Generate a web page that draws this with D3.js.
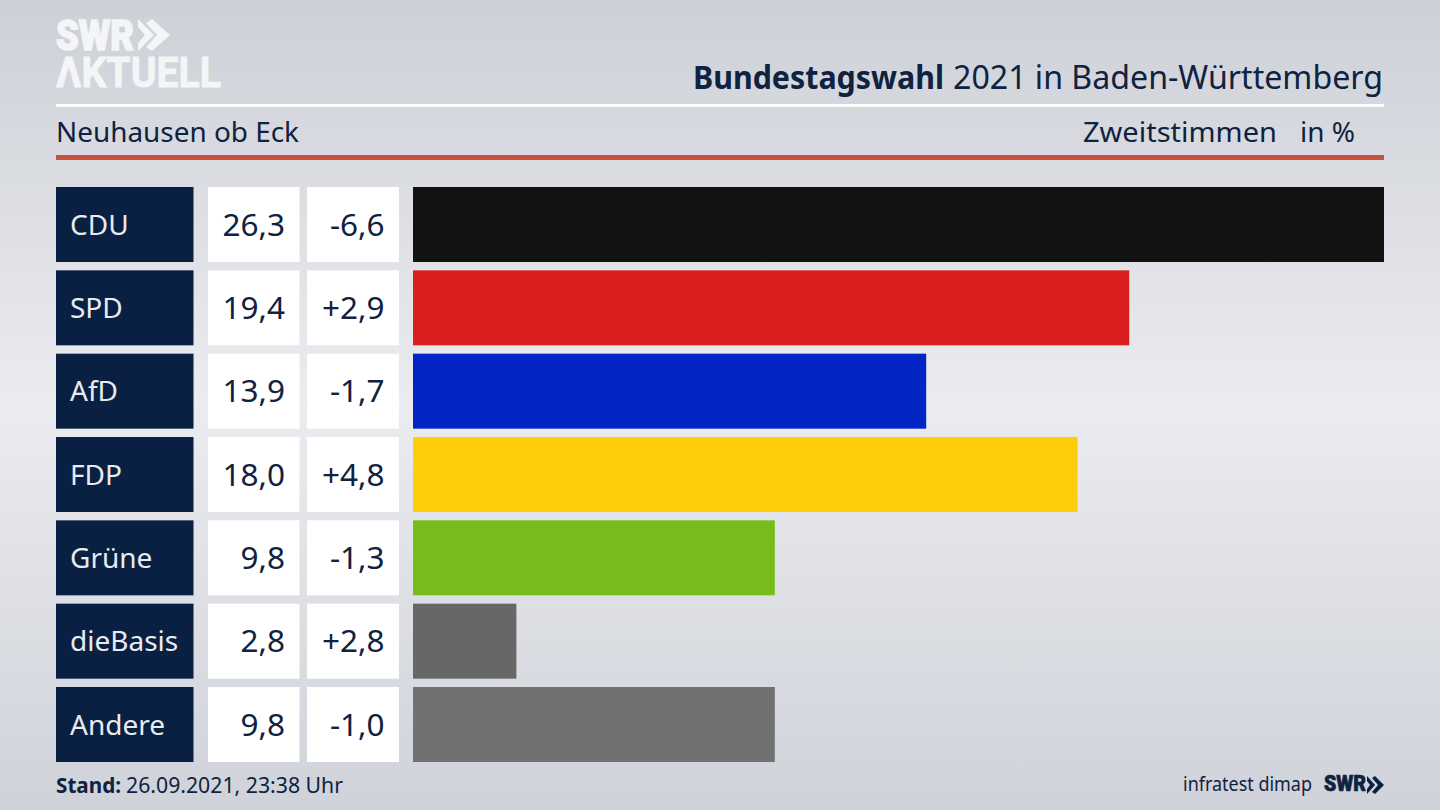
<!DOCTYPE html>
<html>
<head>
<meta charset="utf-8">
<script src="https://cdnjs.cloudflare.com/ajax/libs/d3/7.8.5/d3.min.js"></script>
<style>
html, body { margin: 0; padding: 0; overflow: hidden; background: #d8dae0; }
text { font-family: "Noto Sans", sans-serif; fill: #0f2240; }
</style>
</head>
<body>
<script>
/*--- data ---*/
let parteien = ["CDU", "SPD", "AfD", "FDP", "Grüne", "dieBasis", "Andere"];
let anteil = [26.3, 19.4, 13.9, 18.0, 9.8, 2.8, 9.8];
let differenz = [-6.6, 2.9, -1.7, 4.8, -1.3, 2.8, -1.0];
let farben = ["#121212", "#da1f1f", "#0324c4", "#ffcd0a", "#78bc1b", "#676767", "#717173"];

let width = 1440;
let height = 810;
let navy = "#0a2042";

let komma = d3.format(".1f");
function wert(v) { return komma(v).replace(".", ","); }
// d3.format gives a long minus, the chart has a plain hyphen
function diff(v) { return (v > 0 ? "+" : "") + komma(v).replace(".", ",").replace("\u2212", "-"); }

/*--- scales ---*/
let X = d3.scaleLinear().domain([0, d3.max(anteil)]).range([413, 1384]);
let Y = d3.scaleBand().domain(parteien).range([187, 762]).paddingInner(0.1);

let svg = d3.select("body").append("svg")
    .attr("width", width)
    .attr("height", height)
    .style("display", "block");

/*--- background ---*/
let grad = svg.append("defs").append("linearGradient")
    .attr("id", "bg").attr("x1", 0).attr("y1", 0).attr("x2", 0).attr("y2", 1);
grad.append("stop").attr("offset", "0%").attr("stop-color", "#cdd0d7");
grad.append("stop").attr("offset", "50%").attr("stop-color", "#ebecf0");
grad.append("stop").attr("offset", "100%").attr("stop-color", "#cfd2d9");
svg.append("rect").attr("width", width).attr("height", height).attr("fill", "url(#bg)");

/*--- logo ---*/
let logo = svg.append("g").attr("class", "logo");
logo.append("text").attr("x", 56).attr("y", 50)
    .attr("textLength", 78).attr("lengthAdjust", "spacingAndGlyphs")
    .style("font-family", "Roboto").style("font-size", "43px").style("font-weight", 900)
    .style("fill", "#f4f5f7").style("stroke", "#f4f5f7").style("stroke-width", 1.5)
    .text("SWR");
logo.append("path")
    .attr("fill", "#f4f5f7")
    .attr("d", "M138,19 L154,35 L138,51 L138,43 L145,35 L138,27 Z M152,19 L170,35 L152,51 L146,47 L157,35 L146,23 Z");
logo.append("text").attr("x", 56).attr("y", 87)
    .attr("textLength", 165).attr("lengthAdjust", "spacingAndGlyphs")
    .style("font-family", "Roboto").style("font-size", "42px").style("font-weight", 700)
    .style("fill", "#f4f5f7").style("stroke", "#f4f5f7").style("stroke-width", 0.8)
    .text("ΛKTUELL");

/*--- header ---*/
svg.append("text").attr("x", 693).attr("y", 89)
    .attr("textLength", 251).attr("lengthAdjust", "spacingAndGlyphs")
    .style("font-size", "32px").style("font-weight", 700)
    .text("Bundestagswahl");
svg.append("text").attr("x", 953).attr("y", 89)
    .attr("textLength", 430).attr("lengthAdjust", "spacingAndGlyphs")
    .style("font-size", "32px")
    .text("2021 in Baden-Württemberg");

svg.append("rect").attr("x", 56).attr("y", 104).attr("width", 1328).attr("height", 3).attr("fill", "#ffffff");

svg.append("text").attr("x", 56).attr("y", 142)
    .style("font-size", "28px").attr("textLength", 243).attr("lengthAdjust", "spacingAndGlyphs")
    .text("Neuhausen ob Eck");
svg.append("text").attr("x", 1083).attr("y", 142)
    .style("font-size", "28px").attr("textLength", 194).attr("lengthAdjust", "spacingAndGlyphs")
    .text("Zweitstimmen");
svg.append("text").attr("x", 1300).attr("y", 142)
    .style("font-size", "28px").attr("textLength", 55).attr("lengthAdjust", "spacingAndGlyphs")
    .text("in %");

svg.append("rect").attr("x", 56).attr("y", 155).attr("width", 1328).attr("height", 5).attr("fill", "#c9523f");

/*--- rows ---*/
let zeile = svg.selectAll("g.zeile")
    .data(parteien)
    .enter().append("g")
    .attr("class", "zeile")
    .attr("transform", function(d) { return "translate(0," + Y(d) + ")"; });

// Name
zeile.append("rect").attr("x", 56).attr("width", 137.5).attr("height", Y.bandwidth()).attr("fill", navy);
zeile.append("text").attr("x", 70).attr("y", Y.bandwidth() / 2 + 10)
    .style("font-size", "28px").style("fill", "#e8ebf0")
    .text(function(d) { return d; });

// Wert
zeile.append("rect").attr("x", 208).attr("width", 91.5).attr("height", Y.bandwidth()).attr("fill", "#ffffff");
zeile.append("text").attr("x", 285).attr("y", Y.bandwidth() / 2 + 11).attr("text-anchor", "end")
    .style("font-size", "31.5px")
    .text(function(d, i) { return wert(anteil[i]); });

// Differenz
zeile.append("rect").attr("x", 307).attr("width", 92).attr("height", Y.bandwidth()).attr("fill", "#ffffff");
zeile.append("text").attr("x", 384.5).attr("y", Y.bandwidth() / 2 + 11).attr("text-anchor", "end")
    .style("font-size", "31.5px")
    .text(function(d, i) { return diff(differenz[i]); });

// Balken
zeile.append("rect")
    .attr("x", X(0))
    .attr("height", Y.bandwidth())
    .attr("width", function(d, i) { return X(anteil[i]) - X(0); })
    .attr("fill", function(d, i) { return farben[i]; });

/*--- footer ---*/
svg.append("text").attr("x", 56).attr("y", 793).style("font-size", "21px")
    .attr("textLength", 65).attr("lengthAdjust", "spacingAndGlyphs")
    .style("font-weight", 700)
    .text("Stand:");
svg.append("text").attr("x", 126).attr("y", 793).style("font-size", "21px")
    .attr("textLength", 217).attr("lengthAdjust", "spacingAndGlyphs")
    .text("26.09.2021, 23:38 Uhr");

svg.append("text").attr("x", 1183).attr("y", 791).style("font-size", "20px")
    .attr("textLength", 129).attr("lengthAdjust", "spacingAndGlyphs")
    .text("infratest dimap");
svg.append("text").attr("x", 1324).attr("y", 791)
    .attr("textLength", 42).attr("lengthAdjust", "spacingAndGlyphs")
    .style("font-family", "Roboto").style("font-size", "22px").style("font-weight", 900)
    .style("stroke", "#0f2240").style("stroke-width", 0.7)
    .text("SWR");
svg.append("path")
    .attr("fill", navy)
    .attr("d", "M1367,776 L1375,785 L1367,794 L1367,789 L1370,785 L1367,781 Z M1375,776 L1384,785 L1375,794 L1372,792 L1378,785 L1372,778 Z");
</script>
</body>
</html>
